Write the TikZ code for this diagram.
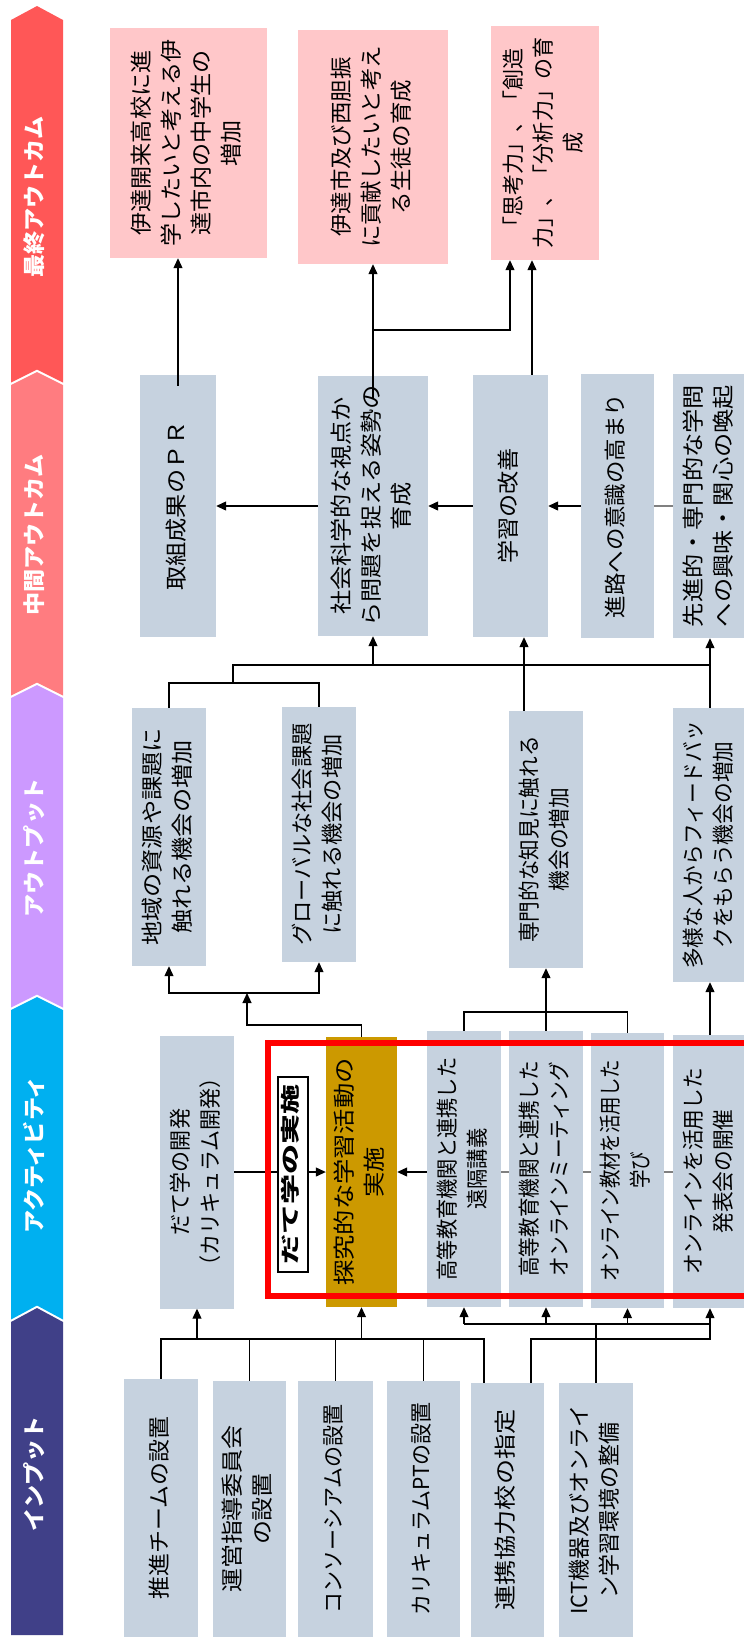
\documentclass[tikz,border=0pt]{standalone}
\usepackage{fontspec}
\usepackage{graphicx}
\newfontfamily\jp{Noto Sans CJK JP}
\usetikzlibrary{arrows.meta,backgrounds}
\definecolor{boxc}{RGB}{198,210,223}
\definecolor{pinkc}{RGB}{255,199,201}
\definecolor{goldc}{RGB}{204,153,0}
\definecolor{bR}{RGB}{255,87,87}
\definecolor{bP}{RGB}{255,124,128}
\definecolor{bV}{RGB}{204,153,255}
\definecolor{bC}{RGB}{0,176,240}
\definecolor{bN}{RGB}{64,64,136}
\newcommand\vt[2]{\rotatebox{90}{\scalebox{#1}[1]{\begin{tabular}{@{}c@{}}#2\end{tabular}}}}
\begin{document}
\begin{tikzpicture}[x=1pt,y=-1pt,
  gbox/.style={fill=boxc, inner sep=0pt, font=\jp\fontsize{22}{30}\selectfont},
  pbox/.style={gbox, fill=pinkc},
  ybox/.style={gbox, fill=goldc},
  sz/.style 2 args={minimum width=#1pt, minimum height=#2pt},
  lab/.style={text=white, inner sep=0pt, font=\jp\bfseries\fontsize{22}{26}\selectfont},
  ln/.style={draw, line width=1.2pt},
  gln/.style={draw=gray, line width=1.2pt},
  arr/.style={ln, -{Triangle[width=9pt,length=10pt]}}]
\useasboundingbox (0,0) rectangle (744,1639);
\clip (0,0) rectangle (744,1639);
% banner
\fill[bR] (11,20) -- (37,6) -- (63,20) -- (63,382.5) -- (37,369.5) -- (11,382.5) -- cycle;
\fill[bP] (11,385) -- (37,372) -- (63,385) -- (63,695.5) -- (37,682.5) -- (11,695.5) -- cycle;
\fill[bV] (11,698) -- (37,685) -- (63,698) -- (63,1007.5) -- (37,994.5) -- (11,1007.5) -- cycle;
\fill[bC] (11,1010) -- (37,997) -- (63,1010) -- (63,1319.5) -- (37,1305.5) -- (11,1319.5) -- cycle;
\fill[bN] (11,1322) -- (37,1308) -- (63,1322) -- (63,1635) -- (11,1635) -- cycle;
\node[lab] (L1) at (37,197) {\vt{1.05}{最終アウトカム}};
\node[lab] (L2) at (37,535) {\vt{1.05}{中間アウトカム}};
\node[lab] (L3) at (37,848) {\vt{1.05}{アウトプット}};
\node[lab] (L4) at (37,1155) {\vt{1.05}{アクティビティ}};
\node[lab] (L5) at (37,1474) {\vt{1.05}{インプット}};
% final outcomes
\node[pbox, sz={157}{230}] (F1) at (188.5,143) {\vt{1.05}{伊達開来高校に進\\学したいと考える伊\\達市内の中学生の\\増加}};
\node[pbox, sz={150}{234}] (F2) at (373,147) {\vt{1.02}{伊達市及び西胆振\\に貢献したいと考え\\る生徒の育成}};
\node[pbox, sz={108}{234}] (F3) at (545,143) {\vt{0.955}{「思考力」、「創造\\力」、「分析力」の育\\成}};
% middle outcomes
\node[gbox, sz={76}{262}] (M1) at (178,506) {\vt{1.1}{取組成果のＰＲ}};
\node[gbox, sz={110}{260}] (M2) at (373,506) {\vt{1.1}{社会科学的な視点か\\ら問題を捉える姿勢の\\育成}};
\node[gbox, sz={75}{262}] (M3) at (510.5,506) {\vt{1.05}{学習の改善}};
\node[gbox, sz={73}{264}] (M4) at (617.5,506) {\vt{1.02}{進路への意識の高まり}};
\node[gbox, sz={74}{264}] (M5) at (710,506) {\vt{1.1}{先進的・専門的な学問\\への興味・関心の喚起}};
% outputs
\node[gbox, sz={74}{258}] (O1) at (169,837) {\vt{1.1}{地域の資源や課題に\\触れる機会の増加}};
\node[gbox, sz={74}{255}] (O2) at (319,834.5) {\vt{1.01}{グローバルな社会課題\\に触れる機会の増加}};
\node[gbox, sz={74}{257}] (O3) at (546,839.5) {\vt{0.94}{専門的な知見に触れる\\機会の増加}};
\node[gbox, sz={74}{274}] (O4) at (710,845) {\vt{0.94}{多様な人からフィードバッ\\クをもらう機会の増加}};
% activities
\node[gbox, sz={74}{273}] (A1) at (197,1172) {\vt{0.955}{だて学の開発\\（カリキュラム開発）}};
\node[ybox, sz={71}{270}] (A2) at (361.5,1172) {\vt{1.15}{探究的な学習活動の\\実施}};
\node[gbox, sz={74}{276}] (A3) at (464,1169) {\vt{0.92}{高等教育機関と連携した\\遠隔講義}};
\node[gbox, sz={74}{276}] (A4) at (546,1169) {\vt{0.89}{高等教育機関と連携した\\オンラインミーティング}};
\node[gbox, sz={73}{275}] (A5) at (627.5,1170.5) {\vt{0.84}{オンライン教材を活用した\\学び}};
\node[gbox, sz={74}{273}] (A6) at (710,1171.5) {\vt{0.94}{オンラインを活用した\\発表会の開催}};
% inputs
\node[gbox, sz={74}{258}] (I1) at (161,1508) {\vt{1.04}{推進チームの設置}};
\node[gbox, sz={73}{256}] (I2) at (249.5,1509) {\vt{1.09}{運営指導委員会\\の設置}};
\node[gbox, sz={75}{256}] (I3) at (335.5,1509) {\vt{0.955}{コンソーシアムの設置}};
\node[gbox, sz={73}{256}] (I4) at (423.5,1509) {\vt{0.955}{カリキュラムPTの設置}};
\node[gbox, sz={73}{254}] (I5) at (507.5,1510) {\vt{1.14}{連携協力校の指定}};
\node[gbox, sz={74}{254}] (I6) at (596,1510) {\vt{1.0}{ICT機器及びオンライ\\ン学習環境の整備}};
% connectors: final / middle
\coordinate (br) at (373,330);
\coordinate (f3a) at (510,0);
\coordinate (f3b) at (532,0);
\draw[arr] ([yshift=-11pt]M1.north) -- (F1.south -| M1.north);
\draw[arr] ([yshift=-23pt]M2.north) -- (F2.south -| M2.north);
\draw[arr] (br) -| (F3.south -| f3a);
\draw[arr] (M3.north -| f3b) -- (F3.south -| f3b);
\draw[arr] (M2.west) -- (M1.east);
\draw[arr] (M3.west) -- (M2.east);
\draw[arr] (M4.west) -- (M3.east);
\draw[gln] (M5.west) -- (M4.east);
% outputs -> middle
\coordinate (ob1) at (233,683);
\coordinate (ob2) at (233,665);
\coordinate (ob3) at (710,665);
\coordinate (mx3) at (524,0);
\draw[ln] (O1.north) |- (ob1) -| (O2.north);
\draw[ln] (ob1) -- (ob2) -- (ob3);
\draw[arr] (M2.south |- ob2) -- (M2.south);
\draw[arr] (O3.north -| mx3) -- (M3.south -| mx3);
\draw[arr] (O4.north) -- (M5.south);
% activities -> outputs
\coordinate (ab) at (247,993);
\coordinate (ab2) at (247,1025);
\draw[arr] (ab) -| (O1.south);
\draw[arr] (ab) -| (O2.south);
\draw[arr] (A2.north) |- (ab2) -- (ab);
\coordinate (ac) at (546,1012);
\draw[ln] (A3.north) |- (ac) -| (A5.north);
\draw[arr] (A4.north) -- (O3.south);
\draw[arr] (A6.north) -- (O4.south);
% activity row
\draw[arr] (A1.east) -- (A2.west);
\draw[arr] (A3.west |- A2.east) -- (A2.east);
\begin{pgfonlayer}{background}
\draw[gln] (A6.west |- A2.east) -- (A3.west |- A2.east);
\end{pgfonlayer}
% inputs -> activities
\coordinate (ib1) at (161,1339);
\coordinate (ib2) at (484,1339);
\draw[ln] (I1.north) -- (ib1) -- (ib2) -- (I5.north -| ib2);
\foreach \n in {I2,I3,I4} \draw[ln] (\n.north) -- (\n.north |- ib1);
\draw[arr] (A1.south |- ib1) -- (A1.south);
\draw[arr] (A2.south |- ib1) -- (A2.south);
\coordinate (i5r) at (531,1339);
\draw[arr] (I5.north -| i5r) -- (i5r) -| (A6.south);
\coordinate (acb) at (596,1324);
\draw[ln] (I6.north) -- (acb);
\draw[ln] (A3.south |- acb) -- (A6.south |- acb);
\foreach \n in {A3,A4,A5} \draw[arr] (\n.south |- acb) -- (\n.south);
% highlighted frame
\node[draw=black, line width=1.2pt, fill=white, inner sep=0pt, minimum width=30pt, minimum height=195pt, font=\jp\bfseries\fontsize{19}{24}\selectfont] (D) at (293,1174.5) {\vt{1.58}{だて学の実施}};
\node[draw=red, line width=5.5pt, inner sep=0pt, minimum width=540pt, minimum height=253pt] (frame) at (538,1169.5) {};
\end{tikzpicture}
\end{document}
